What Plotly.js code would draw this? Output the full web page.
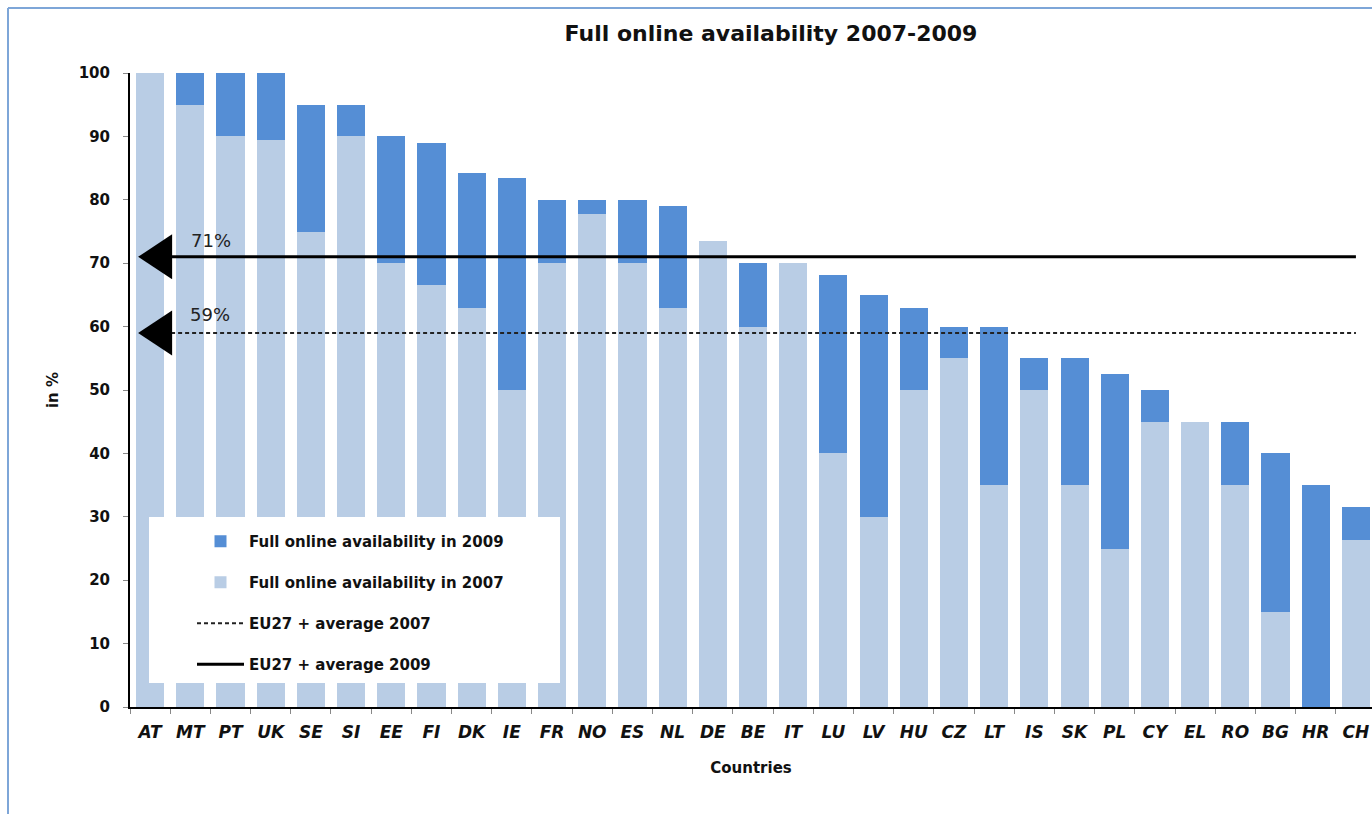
<!DOCTYPE html>
<html>
<head>
<meta charset="utf-8">
<script src="https://cdn.plot.ly/plotly-3.0.1.min.js"></script>
<style>html,body{margin:0;padding:0;background:#fff;}#chart{width:1372px;height:814px;}</style>
</head>
<body>
<div id="chart"></div>
<script>
// ---- data ----
const countries = ['AT','MT','PT','UK','SE','SI','EE','FI','DK','IE','FR','NO','ES','NL','DE','BE','IT','LU','LV','HU','CZ','LT','IS','SK','PL','CY','EL','RO','BG','HR','CH'];
const avail2007 = [100,95,90,89.5,75,90,70,66.5,63,50,70,77.8,70,63,73.5,60,70,40,30,50,55,35,50,35,25,45,45,35,15,0,26.3];
const avail2009 = [100,100,100,100,95,95,90,89,84.2,83.4,80,80,80,79,73.5,70,70,68.2,65,63,60,60,55,55,52.5,50,45,45,40,35,31.6];
const avgLabels = ['EU27 + average 2007','EU27 + average 2009'];
const avg2007 = 59;
const avg2009 = 71;
const seriesNames = ['Full online availability in 2007','Full online availability in 2009'];
const chartTitle = 'Full online availability 2007-2009';
const xTitle = 'Countries';
const yTitle = 'in %';

// ---- styling ----
const LIGHT = '#B9CDE5', DARK = '#558ED5';
const FONT = 'DejaVu Sans';
const W = 1372, H = 814, ML = 130, MR = 0, MT = 73, MB = 107;
const PW = W - ML - MR, PH = H - MT - MB;
const px = v => (v - ML) / PW;          // pixel x -> paper
const py = v => (H - MB - v) / PH;      // pixel y -> paper

const increment = avail2009.map((v, i) => +(v - avail2007[i]).toFixed(2));
const firstCat = countries[0], lastCat = countries[countries.length - 1];

const traces = [
  {type:'bar', x:countries, y:avail2007, name:seriesNames[0], marker:{color:LIGHT},
   legendgroup:'g2', legendrank:2, hoverinfo:'x+y'},
  {type:'bar', x:countries, y:increment, name:seriesNames[1], marker:{color:DARK},
   legendgroup:'g1', legendrank:1, customdata:avail2009, hovertemplate:'%{x}: %{customdata}<extra></extra>'},
  {type:'scatter', mode:'lines', x:[firstCat,lastCat], y:[avg2007,avg2007], name:avgLabels[0],
   line:{color:'#222', width:2, dash:'4px,3px'}, legendgroup:'g3', legendrank:3},
  {type:'scatter', mode:'lines', x:[firstCat,lastCat], y:[avg2009,avg2009], name:avgLabels[1],
   line:{color:'#000', width:3}, legendgroup:'g4', legendrank:4}
];

function arrow(val){
  return {type:'path', xref:'x', yref:'y', xsizemode:'pixel', ysizemode:'pixel',
    xanchor:firstCat, yanchor:val, path:'M -12 0 L 22 22.5 L 22 -22.5 Z',
    fillcolor:'#000', line:{width:0}, layer:'above'};
}

const layout = {
  width:W, height:H,
  margin:{l:ML, r:MR, t:MT, b:MB, pad:0},
  paper_bgcolor:'#fff', plot_bgcolor:'#fff',
  font:{family:FONT, color:'#111'},
  barmode:'stack', bargap:0.3,
  showlegend:true,
  title:{text:chartTitle, font:{family:FONT, size:22, weight:'bold', color:'#111'},
         xref:'container', x:771/W, xanchor:'center', yref:'container', y:1-33/H, yanchor:'middle'},
  xaxis:{type:'category', range:[-0.5, 30.4], showline:true, linecolor:'#000', linewidth:2,
         ticks:'outside', tickson:'boundaries', ticklen:5, tickcolor:'#888', tickwidth:1,
         tickfont:{family:FONT, size:17, weight:'bold', style:'italic', color:'#111'},
         ticklabelstandoff:9, showgrid:false, zeroline:false, fixedrange:true,
         title:{text:xTitle, font:{family:FONT, size:15, weight:'bold', color:'#111'}, standoff:21}},
  yaxis:{range:[0,100], dtick:10, showline:true, linecolor:'#000', linewidth:2,
         ticks:'outside', ticklen:5, tickcolor:'#888', tickwidth:1,
         tickfont:{family:FONT, size:15, weight:'bold', color:'#111'},
         ticklabelstandoff:10, showgrid:false, zeroline:false, fixedrange:true,
         title:{text:yTitle, font:{family:FONT, size:15, weight:'bold', color:'#111'}, standoff:16}},
  legend:{x:px(192), y:py(525), xanchor:'left', yanchor:'top', bgcolor:'rgba(0,0,0,0)',
          borderwidth:0, traceorder:'grouped', tracegroupgap:18.5, itemwidth:47,
          font:{family:FONT, size:15, weight:'bold', color:'#111'}},
  shapes:[
    {type:'rect', xref:'paper', yref:'paper', x0:px(149), x1:px(560), y0:py(683), y1:py(517),
     fillcolor:'#fff', line:{width:0}, layer:'above'},
    arrow(avg2009), arrow(avg2007),
    {type:'line', xref:'paper', yref:'paper', x0:px(8), x1:px(8), y0:py(814), y1:py(8),
     line:{color:'#7EA6D8', width:2}},
    {type:'line', xref:'paper', yref:'paper', x0:px(8), x1:1, y0:py(8), y1:py(8),
     line:{color:'#7EA6D8', width:2}}
  ],
  annotations:[
    {x:firstCat, y:avg2009, xref:'x', yref:'y', text:avg2009+'%', showarrow:false,
     xshift:61, yshift:16, font:{family:FONT, size:18, color:'#222'}},
    {x:firstCat, y:avg2007, xref:'x', yref:'y', text:avg2007+'%', showarrow:false,
     xshift:60, yshift:18, font:{family:FONT, size:18, color:'#222'}}
  ]
};

Plotly.newPlot('chart', traces, layout, {displayModeBar:false, staticPlot:true});
</script>
</body>
</html>
